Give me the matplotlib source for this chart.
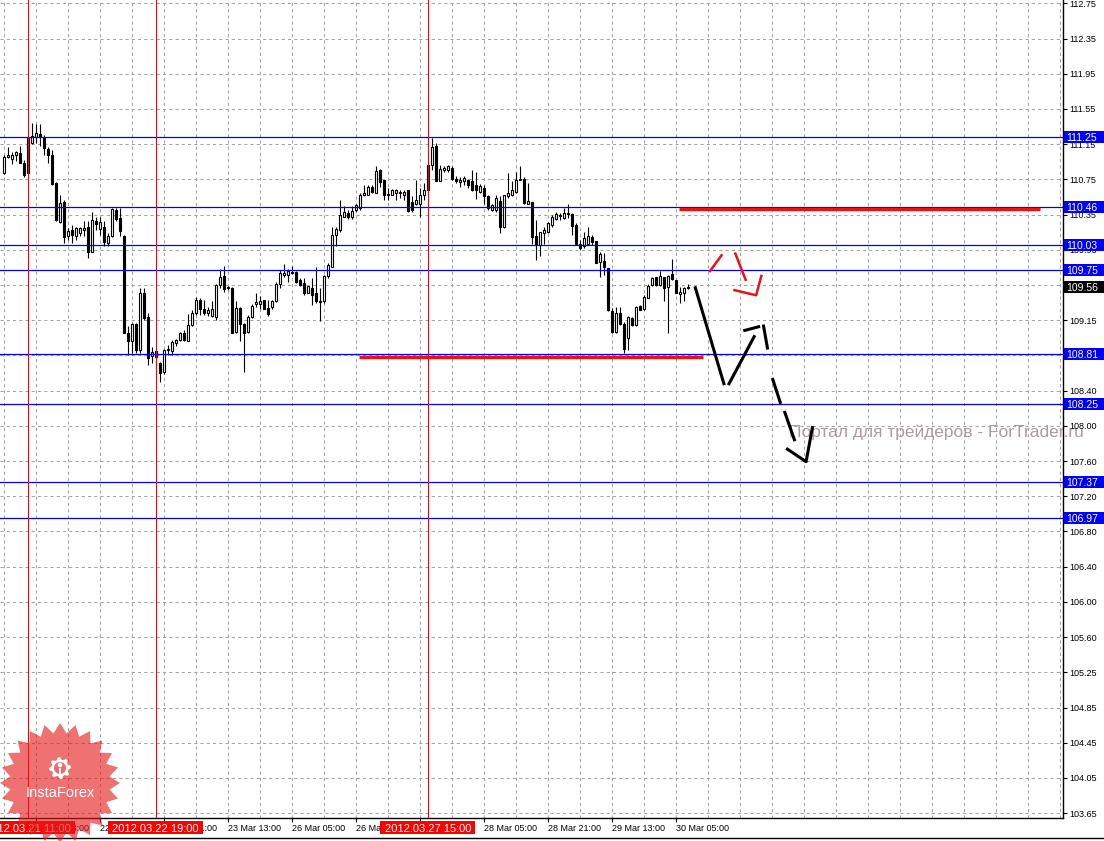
import numpy as np
import pandas as pd
import matplotlib
matplotlib.use("Agg")
import matplotlib.pyplot as plt
from matplotlib.patches import Rectangle, Polygon, Circle
from matplotlib.lines import Line2D
from matplotlib.transforms import blended_transform_factory, IdentityTransform

plt.rcParams['font.family'] = ['Liberation Sans', 'DejaVu Sans']

# USDJPY H1, bars from 2012.03.21 05:00
open_ = [
    110.84, 111.02, 111.00, 111.04, 111.07, 110.96, 111.24, 111.18, 111.25, 111.28,
    111.25, 111.11, 111.05, 110.73, 110.29, 110.52, 110.13, 110.20, 110.14, 110.17,
    110.20, 110.24, 109.96, 110.30, 110.21, 110.24, 110.06, 110.13, 110.43, 110.34,
    110.14, 109.05, 108.96, 109.15, 108.85, 109.50, 109.22, 108.79, 108.78, 108.71,
    108.61, 108.86, 108.84, 108.93, 108.97, 109.04, 108.96, 109.14, 109.27, 109.42,
    109.31, 109.27, 109.24, 109.23, 109.59, 109.69, 109.55, 109.55, 109.06, 109.33,
    109.15, 109.06, 109.22, 109.37, 109.37, 109.42, 109.33, 109.34, 109.41, 109.60,
    109.70, 109.70, 109.73, 109.73, 109.64, 109.61, 109.50, 109.55, 109.50, 109.41,
    109.40, 109.69, 109.79, 110.15, 110.20, 110.35, 110.39, 110.35, 110.43, 110.45,
    110.60, 110.60, 110.69, 110.62, 110.88, 110.76, 110.61, 110.60, 110.62, 110.62,
    110.60, 110.65, 110.52, 110.50, 110.50, 110.60, 110.93, 110.93, 111.15, 110.75,
    110.88, 110.88, 110.90, 110.78, 110.74, 110.75, 110.77, 110.75, 110.71, 110.63,
    110.68, 110.58, 110.43, 110.43, 110.53, 110.24, 110.58, 110.60, 110.63, 110.77,
    110.78, 110.50, 110.52, 110.14, 110.03, 110.17, 110.18, 110.26, 110.33, 110.36,
    110.34, 110.39, 110.38, 110.26, 110.05, 110.02, 110.05, 110.12, 110.08, 109.84,
    109.85, 109.78, 109.29, 109.06, 109.27, 109.15, 108.99, 109.21, 109.13, 109.35,
    109.31, 109.44, 109.58, 109.67, 109.58, 109.68, 109.56, 109.71, 109.64, 109.48,
    109.49, 109.55]
high = [
    111.05, 111.13, 111.08, 111.09, 111.15, 110.99, 111.25, 111.41, 111.39, 111.39,
    111.27, 111.14, 111.10, 110.74, 110.60, 110.54, 110.22, 110.26, 110.24, 110.24,
    110.30, 110.30, 110.41, 110.35, 110.35, 110.30, 110.17, 110.45, 110.45, 110.45,
    110.15, 109.12, 109.16, 109.16, 109.55, 109.55, 109.27, 108.89, 108.87, 108.72,
    108.87, 108.91, 108.97, 108.98, 109.06, 109.08, 109.26, 109.30, 109.45, 109.44,
    109.42, 109.34, 109.40, 109.60, 109.77, 109.80, 109.57, 109.56, 109.40, 109.34,
    109.16, 109.25, 109.37, 109.50, 109.46, 109.42, 109.42, 109.42, 109.62, 109.75,
    109.82, 109.77, 109.80, 109.74, 109.66, 109.66, 109.57, 109.66, 109.79, 109.55,
    109.70, 109.83, 110.24, 110.24, 110.54, 110.47, 110.43, 110.47, 110.50, 110.62,
    110.71, 110.71, 110.71, 110.92, 110.89, 110.77, 110.67, 110.66, 110.66, 110.65,
    110.65, 110.65, 110.59, 110.77, 110.67, 110.73, 110.93, 111.24, 111.18, 110.93,
    110.92, 110.93, 110.92, 110.81, 110.80, 110.81, 110.78, 110.88, 110.85, 110.72,
    110.71, 110.60, 110.50, 110.60, 110.58, 110.60, 110.84, 110.75, 110.85, 110.92,
    110.80, 110.73, 110.52, 110.32, 110.18, 110.24, 110.29, 110.37, 110.40, 110.39,
    110.45, 110.50, 110.39, 110.28, 110.09, 110.18, 110.24, 110.15, 110.08, 109.96,
    109.94, 109.78, 109.33, 109.34, 109.34, 109.17, 109.24, 109.23, 109.35, 109.36,
    109.47, 109.60, 109.67, 109.68, 109.74, 109.68, 109.70, 109.88, 109.64, 109.56,
    109.56, 109.60]
low = [
    110.83, 111.01, 110.94, 110.98, 110.95, 110.80, 110.83, 111.17, 111.18, 111.15,
    111.05, 110.95, 110.71, 110.30, 110.28, 110.06, 110.09, 110.06, 110.09, 110.13,
    110.14, 109.89, 109.95, 110.20, 110.15, 110.02, 110.02, 110.12, 110.30, 110.13,
    109.04, 108.80, 108.82, 108.82, 108.82, 109.19, 108.69, 108.71, 108.65, 108.50,
    108.59, 108.80, 108.80, 108.90, 108.96, 108.95, 108.95, 109.12, 109.25, 109.25,
    109.25, 109.24, 109.23, 109.19, 109.55, 109.51, 109.53, 109.05, 109.04, 108.95,
    108.61, 109.05, 109.21, 109.34, 109.32, 109.31, 109.24, 109.32, 109.39, 109.55,
    109.68, 109.62, 109.71, 109.61, 109.57, 109.47, 109.49, 109.36, 109.38, 109.18,
    109.38, 109.66, 109.79, 110.02, 110.18, 110.35, 110.33, 110.33, 110.41, 110.43,
    110.58, 110.60, 110.62, 110.62, 110.69, 110.54, 110.54, 110.60, 110.54, 110.56,
    110.54, 110.41, 110.41, 110.48, 110.35, 110.54, 110.63, 110.88, 110.75, 110.75,
    110.86, 110.86, 110.77, 110.73, 110.69, 110.71, 110.68, 110.64, 110.55, 110.62,
    110.50, 110.43, 110.42, 110.41, 110.17, 110.22, 110.56, 110.58, 110.62, 110.76,
    110.50, 110.50, 110.05, 109.87, 109.91, 110.05, 110.17, 110.24, 110.32, 110.32,
    110.33, 110.34, 110.15, 110.03, 109.98, 110.00, 110.03, 110.03, 109.83, 109.67,
    109.70, 109.29, 109.04, 109.04, 109.14, 108.82, 108.86, 109.12, 109.12, 109.30,
    109.30, 109.44, 109.57, 109.57, 109.57, 109.41, 109.04, 109.64, 109.49, 109.38,
    109.40, 109.54]
close = [
    111.02, 111.04, 111.04, 111.08, 110.96, 110.82, 110.84, 111.26, 111.29, 111.25,
    111.12, 111.05, 110.72, 110.31, 110.51, 110.12, 110.19, 110.15, 110.23, 110.22,
    110.23, 109.95, 110.32, 110.27, 110.29, 110.07, 110.13, 110.44, 110.33, 110.19,
    109.05, 108.96, 109.15, 108.85, 109.49, 109.21, 108.77, 108.83, 108.84, 108.60,
    108.86, 108.87, 108.94, 108.97, 109.05, 108.97, 109.14, 109.27, 109.42, 109.32,
    109.27, 109.30, 109.31, 109.59, 109.67, 109.54, 109.56, 109.05, 109.33, 109.15,
    109.05, 109.22, 109.35, 109.39, 109.41, 109.32, 109.26, 109.41, 109.60, 109.72,
    109.72, 109.74, 109.72, 109.62, 109.59, 109.50, 109.57, 109.47, 109.40, 109.39,
    109.69, 109.81, 110.15, 110.21, 110.37, 110.40, 110.35, 110.42, 110.48, 110.60,
    110.62, 110.69, 110.63, 110.87, 110.74, 110.60, 110.60, 110.65, 110.65, 110.63,
    110.63, 110.42, 110.43, 110.54, 110.60, 110.65, 110.65, 111.14, 110.75, 110.89,
    110.90, 110.92, 110.78, 110.75, 110.77, 110.79, 110.71, 110.65, 110.65, 110.70,
    110.58, 110.45, 110.48, 110.56, 110.24, 110.60, 110.62, 110.65, 110.77, 110.78,
    110.51, 110.53, 110.12, 110.03, 110.18, 110.20, 110.28, 110.35, 110.38, 110.37,
    110.39, 110.38, 110.25, 110.05, 110.00, 110.11, 110.13, 110.07, 109.83, 109.93,
    109.79, 109.30, 109.06, 109.27, 109.15, 108.87, 109.22, 109.13, 109.34, 109.30,
    109.45, 109.57, 109.66, 109.58, 109.69, 109.55, 109.69, 109.65, 109.49, 109.51,
    109.55, 109.56]

# horizontal levels (blue lines) and vertical lines (red)
levels = [111.25, 110.46, 110.03, 109.75, 108.81, 108.25, 107.37, 106.97]
vline_times = ['2012-03-21 11:00', '2012-03-22 19:00', '2012-03-27 15:00']

# price scale labels, top to bottom
ytick_labels = ['112.75', '112.35', '111.95', '111.55', '111.15', '110.75', '110.35', '109.95',
                '109.55', '109.15', '108.75', '108.40', '108.00', '107.60', '107.20', '106.80',
                '106.40', '106.00', '105.60', '105.25', '104.85', '104.45', '104.05', '103.65']

# drawn objects: thick red segments (bar index, price)
red_segments = [([88.9, 174.7], [108.78, 108.78]), ([168.9, 259.0], [110.435, 110.435])]
# hand drawn strokes (bar index list, price list)
red_strokes = [
    ([176.4, 179.65], [109.73, 109.93]),
    ([182.8, 185.6], [109.95, 109.63]),
    ([182.4, 188.1, 189.5], [109.53, 109.47, 109.70]),
]
black_strokes = [
    ([172.8, 180.15], [109.57, 108.46]),
    ([181.15, 187.8], [108.46, 109.02]),
    ([184.9, 189.1], [109.07, 109.12]),
    ([189.9, 191.0], [109.14, 108.86]),
    ([192.15, 194.25], [108.54, 108.25]),
    ([195.15, 197.8], [108.17, 107.83]),
    ([195.6, 200.6, 202.25], [107.75, 107.60, 108.00]),
]

# bar times (H1, no weekends)
times = pd.date_range('2012-03-21 05:00', '2012-04-10', freq='h')
times = times[times.dayofweek < 5]
n = len(close)
x = np.arange(n)
label_idx = list(range(8, n, 16))
xlabels = [times[i].strftime('%d %b %H:%M') for i in label_idx]
vline_bars = [times.get_loc(pd.Timestamp(t)) for t in vline_times]

fig = plt.figure(figsize=(11.04, 8.41), dpi=100)
ax = fig.add_axes([0, 23 / 841, 1062.7 / 1104, 818 / 841])
x0, x1 = -0.925, 264.75
y0, y1 = 103.596, 112.787
ax.set_xlim(x0, x1)
ax.set_ylim(y0, y1)
axw = ax.bbox.width
axh = ax.bbox.height
ppu = axh / (y1 - y0)      # pixels per price unit
bpx = axw / (x1 - x0)      # pixels per bar

ytick_pos = np.linspace(float(ytick_labels[0]), float(ytick_labels[-1]), len(ytick_labels))

# grid
for g in np.arange(0, 265, 8):
    ax.axvline(g, color='#a4a4a4', lw=0.75, ls=(0, (3, 3)), zorder=0)
for g in ytick_pos:
    ax.axhline(g, color='#a4a4a4', lw=0.75, ls=(0, (3, 3)), zorder=0)

# candles
o = np.array(open_)
c = np.array(close)
up = c >= o
ax.vlines(x, low, high, color='black', lw=0.8, zorder=2)
ax.bar(x, np.maximum(np.abs(c - o), 0.004), 0.6, np.minimum(o, c),
       color=np.where(up, 'white', 'black'), edgecolor='black', linewidth=0.8, zorder=3)

# objects
for lv in levels:
    ax.axhline(lv, color='#0000ff', lw=0.9, zorder=4)
for b in vline_bars:
    ax.axvline(b, color='#ff0000', lw=0.8, zorder=4)
for sx, sy in red_segments:
    ax.plot(sx, sy, color='#ee1111', lw=2.4, solid_capstyle='butt', zorder=5)
for sx, sy in red_strokes:
    ax.plot(sx, sy, color='#ee1111', lw=1.8, solid_capstyle='butt', zorder=5)
for sx, sy in black_strokes:
    ax.plot(sx, sy, color='black', lw=2.2, solid_capstyle='butt', zorder=5)

ax.text(789 / 1104, 1 - 432 / 841, 'Портал для трейдеров - ForTrader.ru', transform=fig.transFigure,
        fontsize=12.5, color='#ab9d9d', ha='left', va='center', zorder=1)

# axes look
for s in ['left', 'top']:
    ax.spines[s].set_visible(False)
for s in ['right', 'bottom']:
    ax.spines[s].set_linewidth(1.0)
ax.yaxis.tick_right()
ax.set_yticks(ytick_pos)
ax.set_yticklabels(ytick_labels)
ax.tick_params(axis='y', length=3, width=0.8, labelsize=6.5, pad=2, colors='black')
ax.set_xticks(label_idx)
ax.set_xticklabels(xlabels, ha='left')
ax.tick_params(axis='x', length=3, width=0.8, labelsize=6.5, pad=1.5, colors='black')

# price boxes on the right
trans_r = blended_transform_factory(ax.transAxes, ax.transData)


def right_box(v, fc):
    ax.add_patch(Rectangle((1 + 1.5 / axw, v - 6 / ppu), 41 / axw, 12 / ppu, transform=trans_r,
                           fc=fc, ec='none', clip_on=False, zorder=6))
    ax.text(1 + 4 / axw, v, f'{v:.2f}', transform=trans_r, color='white', fontsize=7.5,
            va='center_baseline', ha='left', zorder=7, clip_on=False)


for lv in levels:
    right_box(lv, '#0000ff')
right_box(close[-1], 'black')

# time boxes for the vertical lines
trans_b = blended_transform_factory(ax.transData, ax.transAxes)
for b, t in zip(vline_bars, vline_times):
    ax.add_patch(Rectangle((b - 47.5 / bpx, -16 / axh), 95 / bpx, 13 / axh, transform=trans_b,
                           fc='#ff0000', ec='none', clip_on=False, zorder=6))
    ax.text(b, -9.5 / axh, pd.Timestamp(t).strftime('%Y.%m.%d %H:%M'), transform=trans_b,
            color='white', fontsize=8, ha='center', va='center_baseline', zorder=7, clip_on=False)

fig.add_artist(Line2D([0, 1], [3 / 841, 3 / 841], transform=fig.transFigure, color='black', lw=1))

# InstaForex badge
cx, cy = 60, 58
ang = np.linspace(0, 2 * np.pi, 48, endpoint=False) + np.pi / 2
rad = np.where(np.arange(48) % 2 == 0, 60, 50)
star = np.column_stack([cx + rad * np.cos(ang), cy + rad * np.sin(ang)])
fig.add_artist(Polygon(star, closed=True, transform=IdentityTransform(), fc=(0.9, 0.1, 0.1),
                       alpha=0.62, ec='none', zorder=10))
gy = 73
ga = np.linspace(0, 2 * np.pi, 32, endpoint=False)
gr = np.where((np.arange(32) // 2) % 2 == 0, 11, 8.5)
gear = np.column_stack([cx + gr * np.cos(ga), gy + gr * np.sin(ga)])
fig.add_artist(Polygon(gear, closed=True, transform=IdentityTransform(), fc='white', ec='none', zorder=11))
fig.add_artist(Circle((cx, gy), 6, transform=IdentityTransform(), fc=(238 / 255, 106 / 255, 106 / 255),
                      ec='none', zorder=12))
fig.add_artist(Circle((cx, gy + 3), 2.3, transform=IdentityTransform(), fc='white', ec='none', zorder=13))
fig.add_artist(Rectangle((cx - 1.4, gy - 9), 2.8, 9.5, transform=IdentityTransform(), fc='white',
                         ec='none', zorder=13))
fig.text(cx / 1104, (841 - 793) / 841, 'InstaForex', color='white', fontsize=10.5,
         ha='center', va='center', zorder=14)

fig.savefig('out.png', dpi=100)
